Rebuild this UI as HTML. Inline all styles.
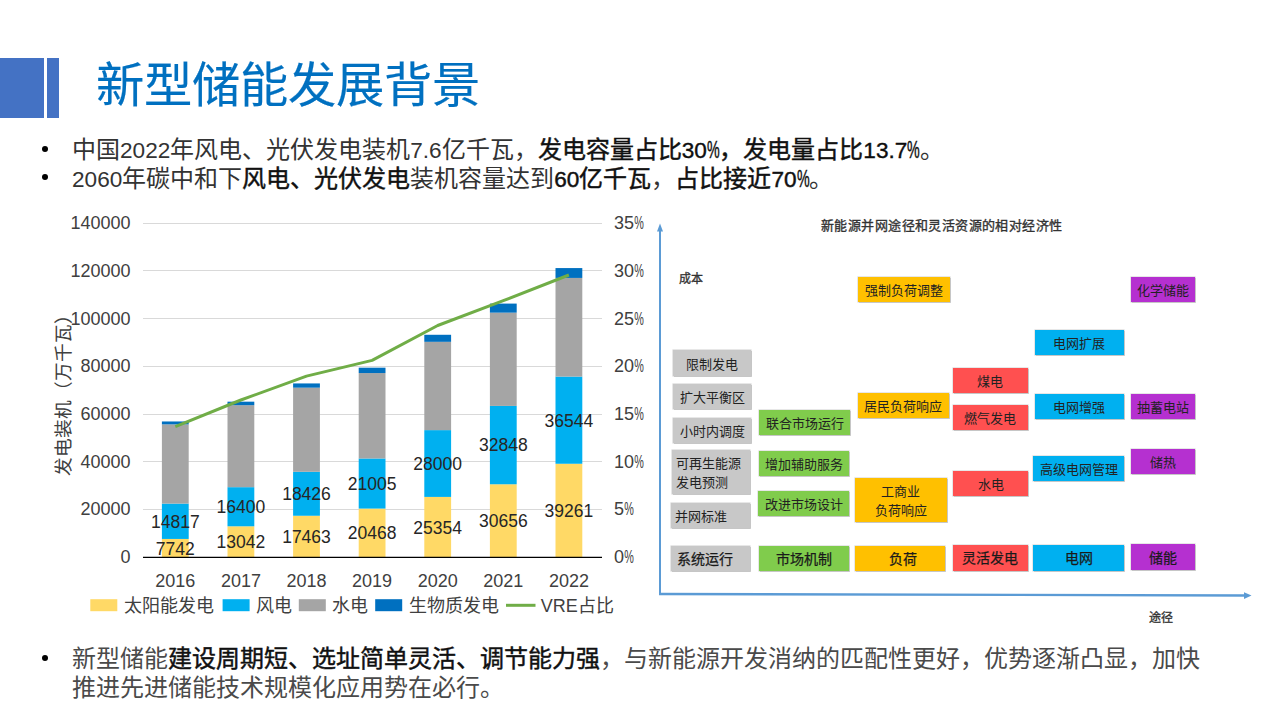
<!DOCTYPE html>
<html lang="zh-CN"><head><meta charset="utf-8">
<style>
*{margin:0;padding:0;box-sizing:border-box}
html,body{width:1280px;height:720px;overflow:hidden;background:#fff}
body{position:relative;font-family:"Liberation Sans",sans-serif;color:#262626}
.abs{position:absolute}
.bar1{left:0;top:58px;width:44px;height:60px;background:#4472C4}
.bar2{left:47px;top:58px;width:12px;height:60px;background:#4472C4}
.title{left:96px;top:51.5px;font-size:48.3px;line-height:66px;color:#0070C0;white-space:nowrap;-webkit-text-stroke:0.2px #0070C0}
.bl{left:72px;font-size:24px;line-height:29px;white-space:nowrap;color:#333}
.dot{position:absolute;left:41.7px;width:6px;height:6px;border-radius:50%;background:#000}
b{font-weight:normal;color:#111;-webkit-text-stroke:0.45px #111}
i{font-style:normal;font-size:22.6px}
i.nr{-webkit-text-stroke:.35px #000}
u{text-decoration:none;display:inline-block;font-size:23px;transform:scaleX(.62);transform-origin:0 0;width:12.5px}
.box{position:absolute;font-family:"Liberation Serif",serif;font-size:13px;color:#222;display:flex;align-items:center;justify-content:center;text-align:center;line-height:19px;padding-top:2px;box-shadow:0 0 0 .6px rgba(0,0,0,.16),1px 1px 0 rgba(0,0,0,.14)}
.bb{-webkit-text-stroke:.25px #1a1a1a;color:#1a1a1a}
.g{background:#C8C8C8}
.gr{background:#80CC4C}
.o{background:#FFC000}
.r{background:#FF5050}
.bu{background:#00B0F0}
.p{background:#B530D0}
</style></head><body>
<div class="abs bar1"></div><div class="abs bar2"></div>
<div class="abs title">新型储能发展背景</div>

<div class="dot" style="top:145.6px"></div>
<div class="abs bl" style="top:135px">中国<i>2022</i>年风电、光伏发电装机<i>7.6</i>亿千瓦，<b>发电容量占比<i class="nr">30</i><u>%</u>，发电量占比<i class="nr">13.7</i><u>%</u></b>。</div>
<div class="dot" style="top:174.1px"></div>
<div class="abs bl" style="top:164px"><i>2060</i>年碳中和下<b>风电、光伏发电</b>装机容量达到<b><i>60</i>亿千瓦</b>，<b>占比接近<i>70</i><u>%</u></b>。</div>

<svg class="abs" style="left:0;top:0" width="1280" height="720" viewBox="0 0 1280 720">
<g stroke="#D9D9D9" stroke-width="1">
<line x1="143" y1="223.5" x2="602" y2="223.5"/>
<line x1="143" y1="270.5" x2="602" y2="270.5"/>
<line x1="143" y1="318.5" x2="602" y2="318.5"/>
<line x1="143" y1="366.5" x2="602" y2="366.5"/>
<line x1="143" y1="414.5" x2="602" y2="414.5"/>
<line x1="143" y1="461.5" x2="602" y2="461.5"/>
<line x1="143" y1="509.5" x2="602" y2="509.5"/>
</g>
<rect x="161.9" y="538.93" width="26.8" height="18.47" fill="#FFD966"/>
<rect x="161.9" y="503.59" width="26.8" height="35.35" fill="#00B0F0"/>
<rect x="161.9" y="424.37" width="26.8" height="79.22" fill="#A5A5A5"/>
<rect x="161.9" y="421.47" width="26.8" height="2.90" fill="#0070C0"/>
<rect x="227.5" y="526.29" width="26.8" height="31.11" fill="#FFD966"/>
<rect x="227.5" y="487.17" width="26.8" height="39.12" fill="#00B0F0"/>
<rect x="227.5" y="405.20" width="26.8" height="81.96" fill="#A5A5A5"/>
<rect x="227.5" y="401.68" width="26.8" height="3.52" fill="#0070C0"/>
<rect x="293.1" y="515.74" width="26.8" height="41.66" fill="#FFD966"/>
<rect x="293.1" y="471.79" width="26.8" height="43.96" fill="#00B0F0"/>
<rect x="293.1" y="387.68" width="26.8" height="84.11" fill="#A5A5A5"/>
<rect x="293.1" y="383.43" width="26.8" height="4.25" fill="#0070C0"/>
<rect x="358.7" y="508.57" width="26.8" height="48.83" fill="#FFD966"/>
<rect x="358.7" y="458.47" width="26.8" height="50.11" fill="#00B0F0"/>
<rect x="358.7" y="373.06" width="26.8" height="85.41" fill="#A5A5A5"/>
<rect x="358.7" y="367.68" width="26.8" height="5.38" fill="#0070C0"/>
<rect x="424.3" y="496.92" width="26.8" height="60.48" fill="#FFD966"/>
<rect x="424.3" y="430.12" width="26.8" height="66.79" fill="#00B0F0"/>
<rect x="424.3" y="341.82" width="26.8" height="88.30" fill="#A5A5A5"/>
<rect x="424.3" y="334.78" width="26.8" height="7.04" fill="#0070C0"/>
<rect x="489.9" y="484.27" width="26.8" height="73.13" fill="#FFD966"/>
<rect x="489.9" y="405.91" width="26.8" height="78.36" fill="#00B0F0"/>
<rect x="489.9" y="312.65" width="26.8" height="93.26" fill="#A5A5A5"/>
<rect x="489.9" y="303.59" width="26.8" height="9.06" fill="#0070C0"/>
<rect x="555.5" y="463.74" width="26.8" height="93.66" fill="#FFD966"/>
<rect x="555.5" y="376.57" width="26.8" height="87.18" fill="#00B0F0"/>
<rect x="555.5" y="277.93" width="26.8" height="98.64" fill="#A5A5A5"/>
<rect x="555.5" y="268.07" width="26.8" height="9.86" fill="#0070C0"/>
<line x1="143" y1="557.4" x2="602" y2="557.4" stroke="#000" stroke-width="1.4"/>
<polyline points="175.3,426.7 240.9,400.0 306.5,376.1 372.1,360.4 437.7,325.5 503.3,300.7 568.9,275.0" fill="none" stroke="#70AD47" stroke-width="3" stroke-linejoin="round"/>
<g font-family="Liberation Sans" font-size="18" fill="#404040" text-anchor="end">
<text x="130.5" y="229">140000</text>
<text x="130.5" y="276.5">120000</text>
<text x="130.5" y="324.5">100000</text>
<text x="130.5" y="372">80000</text>
<text x="130.5" y="420">60000</text>
<text x="130.5" y="467.5">40000</text>
<text x="130.5" y="515">20000</text>
<text x="130.5" y="563">0</text>
</g>
<g font-family="Liberation Sans" font-size="18" fill="#404040">
<text x="614" y="229">35</text><text transform="translate(634.3,229) scale(.6,1)">%</text>
<text x="614" y="276.5">30</text><text transform="translate(634.3,276.5) scale(.6,1)">%</text>
<text x="614" y="324.5">25</text><text transform="translate(634.3,324.5) scale(.6,1)">%</text>
<text x="614" y="372">20</text><text transform="translate(634.3,372) scale(.6,1)">%</text>
<text x="614" y="420">15</text><text transform="translate(634.3,420) scale(.6,1)">%</text>
<text x="614" y="467.5">10</text><text transform="translate(634.3,467.5) scale(.6,1)">%</text>
<text x="614" y="515">5</text><text transform="translate(624.3,515) scale(.6,1)">%</text>
<text x="614" y="563">0</text><text transform="translate(624.3,563) scale(.6,1)">%</text>
</g>
<g font-family="Liberation Sans" font-size="18" fill="#404040" text-anchor="middle">
<text x="175.3" y="586.6">2016</text>
<text x="240.9" y="586.6">2017</text>
<text x="306.5" y="586.6">2018</text>
<text x="372.1" y="586.6">2019</text>
<text x="437.7" y="586.6">2020</text>
<text x="503.3" y="586.6">2021</text>
<text x="568.9" y="586.6">2022</text>
</g>
<g font-family="Liberation Sans" font-size="17.5" fill="#262626" text-anchor="middle">
<text x="175.3" y="554.5">7742</text><text x="175.3" y="527.6">14817</text>
<text x="240.9" y="548.1">13042</text><text x="240.9" y="513.0">16400</text>
<text x="306.5" y="542.9">17463</text><text x="306.5" y="500.1">18426</text>
<text x="372.1" y="539.3">20468</text><text x="372.1" y="489.8">21005</text>
<text x="437.7" y="533.5">25354</text><text x="437.7" y="469.8">28000</text>
<text x="503.3" y="527.1">30656</text><text x="503.3" y="451.4">32848</text>
<text x="568.9" y="516.9">39261</text><text x="568.9" y="426.5">36544</text>
</g>
<text transform="translate(70,390) rotate(-90)" font-family="Liberation Sans" font-size="18.7" fill="#404040" text-anchor="middle">发电装机（万千瓦）</text>
<!-- legend -->
<rect x="90.3" y="599.2" width="27" height="12" fill="#FFD966"/>
<rect x="222.6" y="599.2" width="27" height="12" fill="#00B0F0"/>
<rect x="298.8" y="599.2" width="27" height="12" fill="#A5A5A5"/>
<rect x="375.2" y="599.2" width="27" height="12" fill="#0070C0"/>
<line x1="506" y1="605.3" x2="535.5" y2="605.3" stroke="#70AD47" stroke-width="3"/>
<g font-family="Liberation Sans" font-size="18" fill="#404040">
<text x="123.7" y="612">太阳能发电</text>
<text x="256" y="612">风电</text>
<text x="331.6" y="612">水电</text>
<text x="409" y="612">生物质发电</text>
<text x="540.8" y="612">VRE占比</text>
</g>
<!-- diagram axes -->
<g stroke="#5B9BD5" stroke-width="2" fill="#5B9BD5">
<line x1="660" y1="228" x2="660" y2="595"/>
<line x1="659" y1="594" x2="1246" y2="595.5" stroke-width="2.3"/>
<polygon points="660,223.5 657,231.5 663,231.5" stroke="none"/>
<polygon points="1251.5,595.6 1244,592.2 1244,599" stroke="none"/>
</g>
<g font-family="Liberation Serif" fill="#333" stroke="#333" stroke-width=".35">
<text x="821" y="230" font-size="13" letter-spacing=".42">新能源并网途径和灵活资源的相对经济性</text>
<text x="679" y="282.5" font-size="12">成本</text>
<text x="1149" y="621.5" font-size="12">途径</text>
</g>
</svg>

<!-- diagram boxes -->
<div class="box g" style="left:673px;top:350px;width:78px;height:26px">限制发电</div>
<div class="box g" style="left:673px;top:383.5px;width:78px;height:25px">扩大平衡区</div>
<div class="box g" style="left:673px;top:417.5px;width:78px;height:25px">小时内调度</div>
<div class="box g" style="left:672px;top:450px;width:78px;height:44px;justify-content:flex-start;text-align:left;padding-left:4px">可再生能源<br>发电预测</div>
<div class="box g" style="left:671px;top:503px;width:79px;height:24.5px;justify-content:flex-start;padding-left:4px">并网标准</div>
<div class="box g bb" style="left:671px;top:546px;width:79px;height:24.5px;font-size:14px;justify-content:flex-start;padding-left:6px">系统运行</div>

<div class="box gr" style="left:759px;top:409.5px;width:91px;height:25px">联合市场运行</div>
<div class="box gr" style="left:759px;top:451px;width:90px;height:24.5px">增加辅助服务</div>
<div class="box gr" style="left:758px;top:490.5px;width:91px;height:25px">改进市场设计</div>
<div class="box gr bb" style="left:759px;top:546px;width:90px;height:24.5px;font-size:14px">市场机制</div>

<div class="box o" style="left:858px;top:277px;width:92px;height:25px">强制负荷调整</div>
<div class="box o" style="left:857.5px;top:393px;width:91px;height:25px">居民负荷响应</div>
<div class="box o" style="left:855px;top:477.5px;width:91.5px;height:44.5px">工商业<br>负荷响应</div>
<div class="box o bb" style="left:855px;top:545.5px;width:90px;height:25px;font-size:14px;padding-left:5px">负荷</div>

<div class="box r" style="left:952.5px;top:368px;width:75px;height:25px">煤电</div>
<div class="box r" style="left:952.5px;top:404.5px;width:75px;height:25px">燃气发电</div>
<div class="box r" style="left:953px;top:470.5px;width:75px;height:25px">水电</div>
<div class="box r bb" style="left:952.5px;top:545px;width:75.5px;height:25.5px;font-size:14px">灵活发电</div>

<div class="box bu" style="left:1034.5px;top:329.5px;width:89px;height:25px">电网扩展</div>
<div class="box bu" style="left:1034.5px;top:393.5px;width:89px;height:25px">电网增强</div>
<div class="box bu" style="left:1033px;top:455.5px;width:91px;height:25px">高级电网管理</div>
<div class="box bu bb" style="left:1033px;top:544.5px;width:91px;height:26px;font-size:14px">电网</div>

<div class="box p" style="left:1131px;top:277px;width:64px;height:25px">化学储能</div>
<div class="box p" style="left:1131px;top:393.5px;width:64px;height:25px">抽蓄电站</div>
<div class="box p" style="left:1131px;top:448.5px;width:64px;height:25.5px">储热</div>
<div class="box p bb" style="left:1131px;top:544px;width:64px;height:26px;font-size:14px">储能</div>

<div class="dot" style="top:655.4px"></div>
<div class="abs bl" style="top:644px;color:#4a4a4a">新型储能<b>建设周期短、选址简单灵活、调节能力强</b>，与新能源开发消纳的匹配性更好，优势逐渐凸显，加快<br>推进先进储能技术规模化应用势在必行。</div>
</body></html>
